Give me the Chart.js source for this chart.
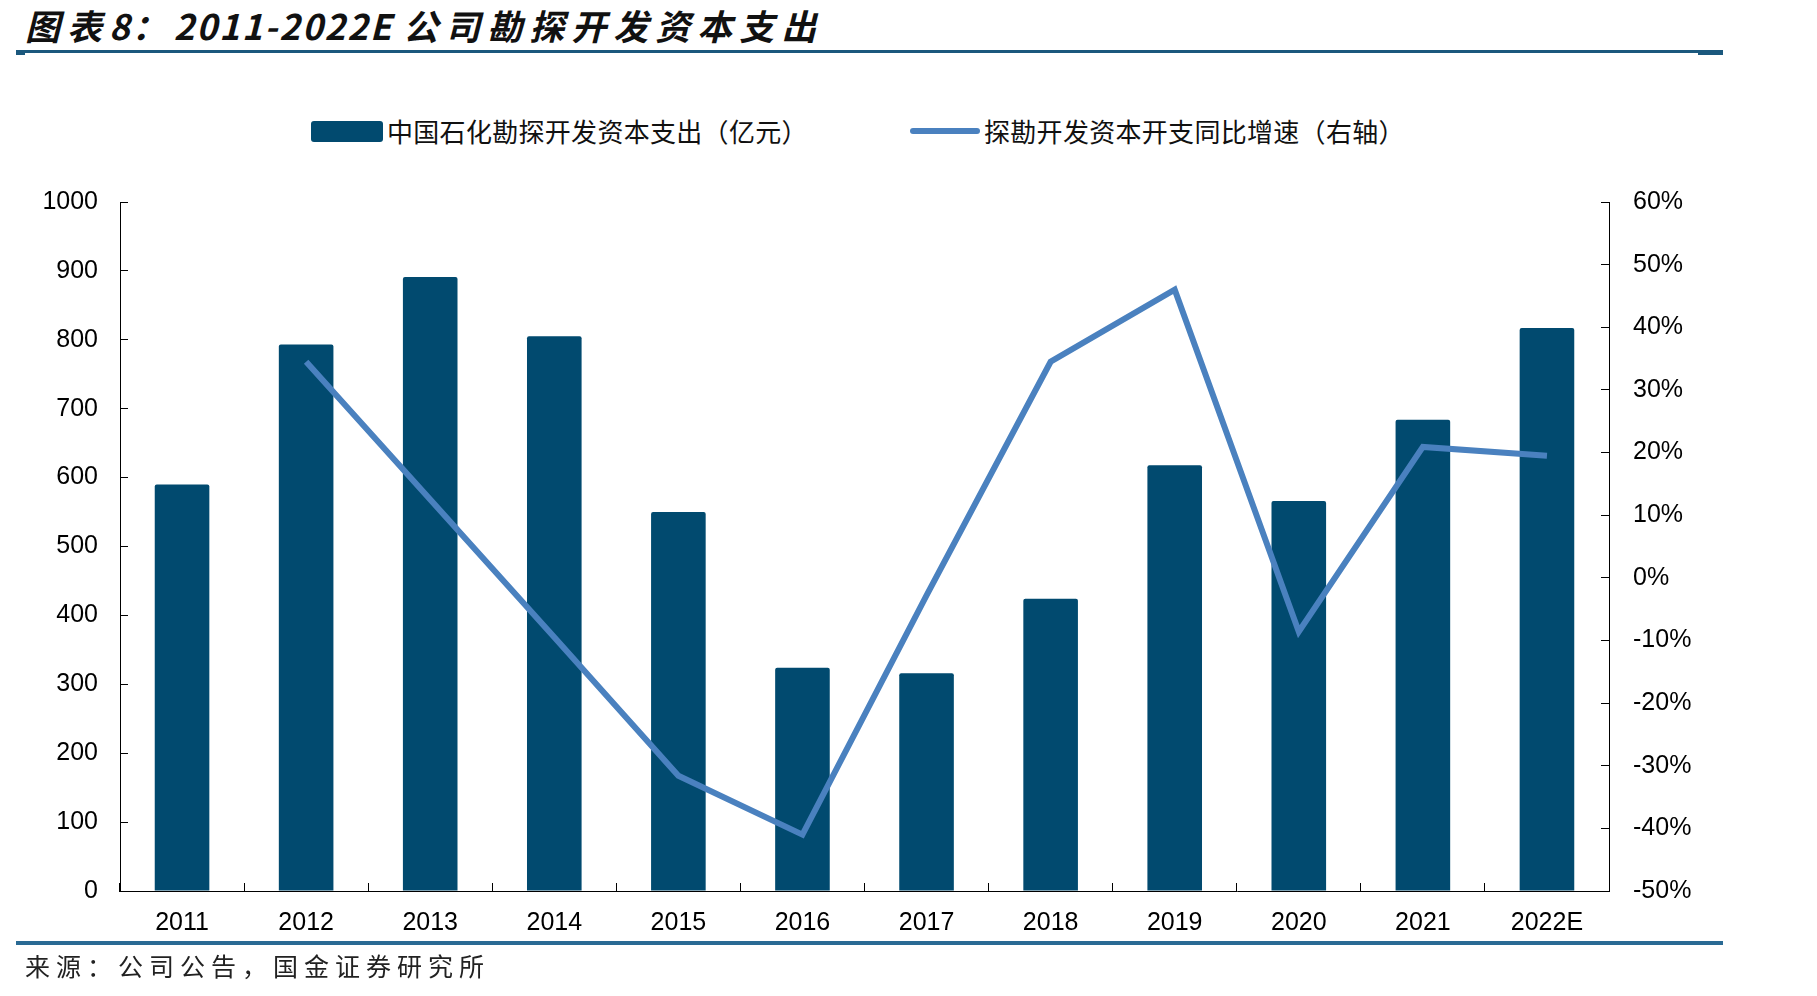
<!DOCTYPE html>
<html>
<head>
<meta charset="utf-8">
<script src="https://cdn.jsdelivr.net/npm/chart.js@4.4.1/dist/chart.umd.min.js"></script>
<style>
  body { margin: 0; background: #fff; }
  #wrap { position: relative; width: 1817px; height: 996px; overflow: hidden; }
  #myChart { position: absolute; left: 0; top: 0; }
  .titulo { position: absolute; left: 25px; top: 4px; font-family: "Noto Sans CJK SC", sans-serif; font-weight: bold; font-style: italic; font-size: 35px; line-height: 42px; color: #111; white-space: nowrap; }
  .titulo .cjk { letter-spacing: 7px; }
  .titulo .num { letter-spacing: 2px; }
  .linea { position: absolute; background: #1b587d; }
  .leyenda { position: absolute; font-family: "Noto Sans CJK SC", sans-serif; font-size: 26px; line-height: 30px; letter-spacing: 0.3px; color: #111; white-space: nowrap; }
  .fuente { position: absolute; left: 25px; top: 948px; font-family: "Noto Sans CJK SC", sans-serif; font-size: 25px; line-height: 34px; letter-spacing: 6px; color: #222; white-space: nowrap; }
</style>
</head>
<body>
<div id="wrap">
  <div class="titulo"><span class="cjk">图表</span><span class="num">8</span><span class="cjk">：</span><span class="num">2011-2022E </span><span class="cjk">公司勘探开发资本支出</span></div>
  <div class="linea" style="left:16px; top:50px; width:1707px; height:3px;"></div>
  <div class="linea" style="left:1698px; top:50px; width:25px; height:5px;"></div>
  <div class="linea" style="left:16px; top:50px; width:9px; height:5px;"></div>

  <div style="position:absolute; left:311px; top:121px; width:72px; height:21px; border-radius:3px; background:#014a6f;"></div>
  <div class="leyenda" style="left:387px; top:116px;">中国石化勘探开发资本支出（亿元）</div>
  <div style="position:absolute; left:910px; top:128px; width:70px; height:6px; border-radius:3px; background:#4a81bf;"></div>
  <div class="leyenda" style="left:984px; top:116px;">探勘开发资本开支同比增速（右轴）</div>

  <canvas id="myChart" width="1817" height="996"></canvas>

  <div class="linea" style="left:16px; top:941px; width:1707px; height:4px; background:#2a6a94;"></div>
  <div class="fuente">来源：公司公告，国金证券研究所</div>
</div>
<script>
// datos
const anios = ["2011", "2012", "2013", "2014", "2015", "2016", "2017", "2018", "2019", "2020", "2021", "2022E"];
const capex = [590, 793, 891, 805, 550, 324, 316, 424, 618, 566, 684, 817];
const crecimiento = [null, 34.5, 12.5, -9.5, -31.6, -41.0, -2.8, 34.5, 46.0, -8.6, 20.9, 19.5];

const colorBarra = "#014a6f";
const colorLinea = "#4a81bf";
const fuenteEjes = { family: "'Liberation Sans', Arial, sans-serif", size: 25 };

let myChart = document.getElementById("myChart");

const data = {
  labels: anios,
  datasets: [
    {
      type: "line",
      label: "探勘开发资本开支同比增速（右轴）",
      data: crecimiento,
      yAxisID: "y1",
      borderColor: colorLinea,
      backgroundColor: colorLinea,
      borderWidth: 6,
      pointRadius: 0,
      tension: 0,
      order: 0,
    },
    {
      type: "bar",
      label: "中国石化勘探开发资本支出（亿元）",
      data: capex,
      yAxisID: "y",
      backgroundColor: colorBarra,
      borderRadius: 2,
      borderSkipped: "bottom",
      barPercentage: 0.44,
      categoryPercentage: 1,
      order: 1,
    },
  ],
};

const config = {
  type: "bar",
  data,
  options: {
    responsive: false,
    animation: false,
    layout: { padding: { top: 202, left: 0, right: 0, bottom: 0 } },
    plugins: { legend: { display: false }, tooltip: { enabled: false } },
    scales: {
      x: {
        offset: true,
        grid: { display: true, drawOnChartArea: false, offset: true, tickLength: -8, color: "#000" },
        border: { color: "#000", width: 1 },
        ticks: { color: "#000", font: fuenteEjes, padding: 25, maxRotation: 0 },
        afterFit: (s) => { s.height = 105; },
      },
      y: {
        position: "left",
        min: 0,
        max: 1000,
        grid: { drawOnChartArea: false, tickLength: -8, color: "#000" },
        border: { color: "#000", width: 1 },
        ticks: { stepSize: 100, color: "#000", font: fuenteEjes, padding: 30, callback: (v) => String(v) },
        afterFit: (s) => { s.width = 120; },
      },
      y1: {
        position: "right",
        min: -50,
        max: 60,
        grid: { drawOnChartArea: false, tickLength: -8, color: "#000" },
        border: { color: "#000", width: 1 },
        ticks: { stepSize: 10, color: "#000", font: fuenteEjes, padding: 32, callback: (v) => v + "%" },
        afterFit: (s) => { s.width = 208; },
      },
    },
  },
};

const chart = new Chart(myChart, config);
</script>
</body>
</html>
